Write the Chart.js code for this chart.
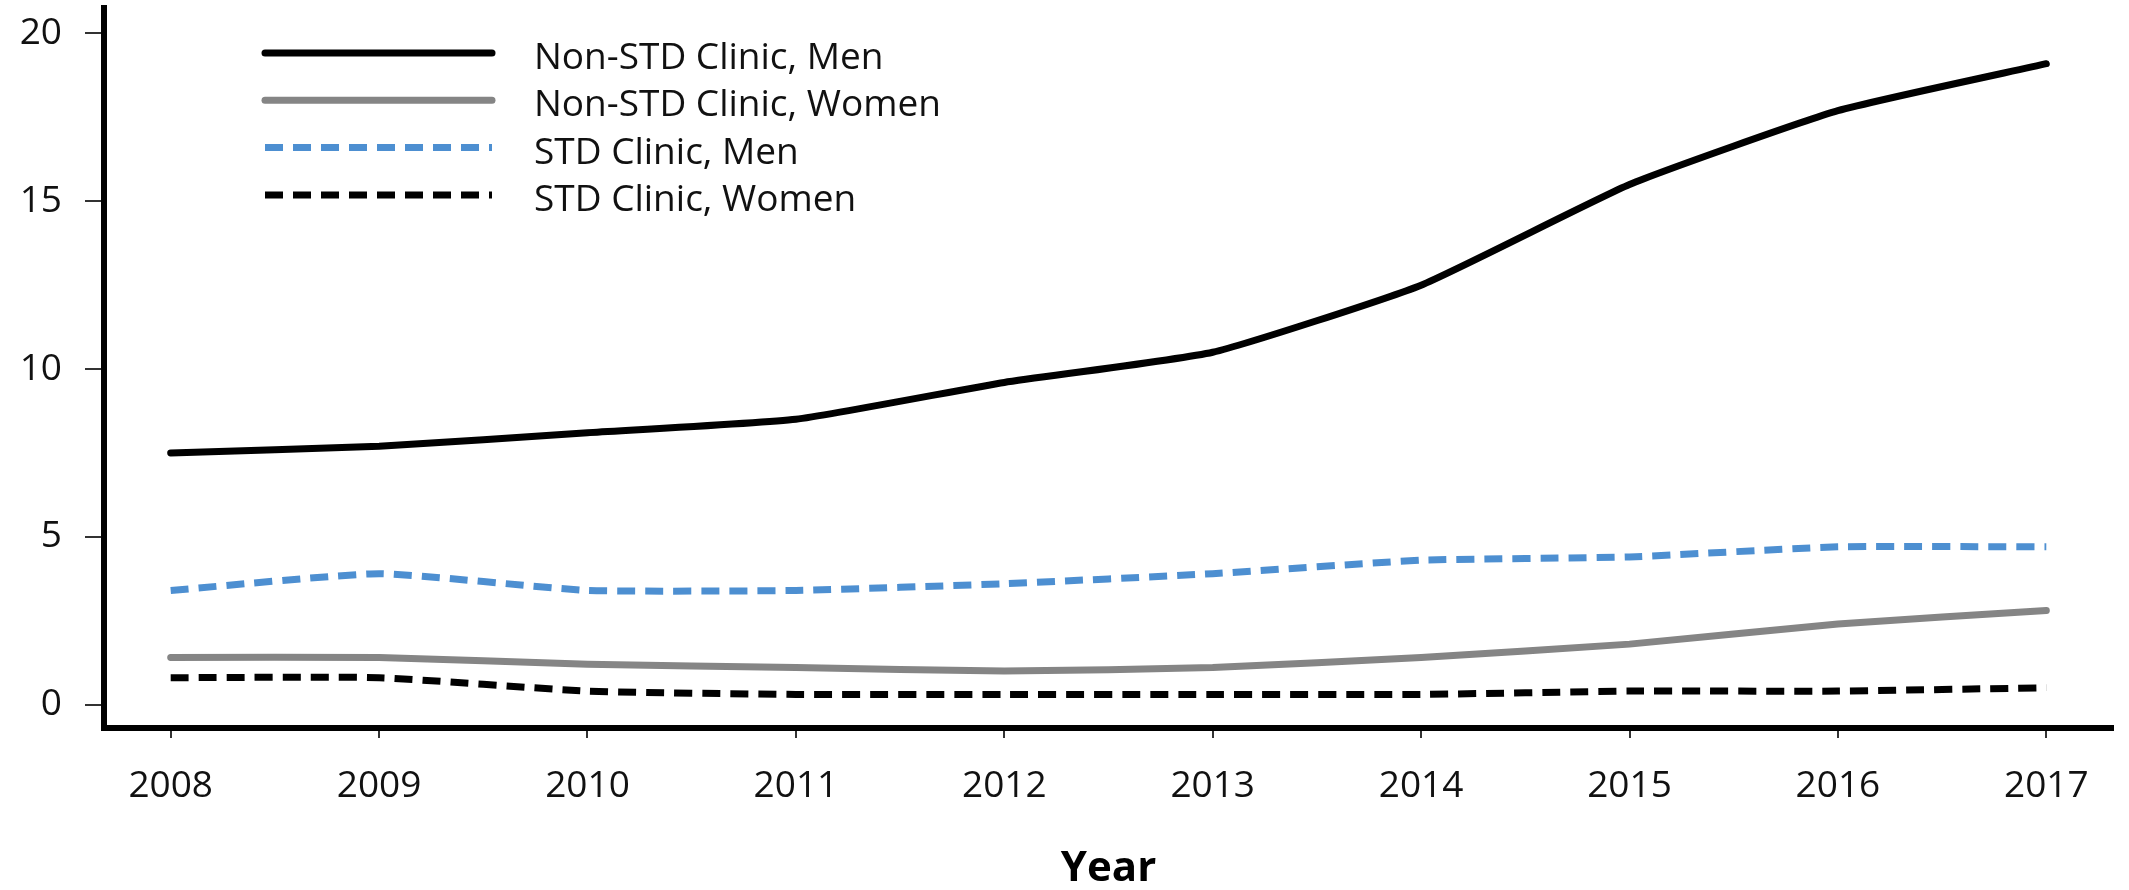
<!DOCTYPE html>
<html>
<head>
  <meta charset="UTF-8" />
  <title>Clinic chart</title>
  <script src="https://cdn.jsdelivr.net/npm/chart.js"></script>
  <style>
    body {
      margin: 0;
      background: #fff;
    }

    #wrap {
      width: 2129px;
      height: 890px;
    }
  </style>
</head>
<body>
  <div id="wrap"><canvas id="chart"></canvas></div>

  <script>
    const years = [2008, 2009, 2010, 2011, 2012, 2013, 2014, 2015, 2016, 2017];
    const nonStdMen = [7.5, 7.7, 8.1, 8.5, 9.6, 10.5, 12.5, 15.5, 17.7, 19.1];
    const nonStdWomen = [1.4, 1.4, 1.2, 1.1, 1.0, 1.1, 1.4, 1.8, 2.4, 2.8];
    const stdMen = [3.4, 3.9, 3.4, 3.4, 3.6, 3.9, 4.3, 4.4, 4.7, 4.7];
    const stdWomen = [0.8, 0.8, 0.4, 0.3, 0.3, 0.3, 0.3, 0.4, 0.4, 0.5];
    const yTicks = [0, 5, 10, 15, 20];

    const font = 'Open Sans';
    const textColor = '#111';

    function points(values) {
      return years.map((yr, i) => ({ x: yr, y: values[i] }));
    }

    // legend drawn as line samples inside the plot, like the original
    const lineLegend = {
      id: 'lineLegend',
      afterDatasetsDraw(chart) {
        const ctx = chart.ctx;
        ctx.save();
        chart.data.datasets.forEach((ds, i) => {
          const y = 53 + i * 47.3;
          ctx.beginPath();
          ctx.setLineDash(ds.borderDash || []);
          ctx.lineWidth = ds.borderWidth;
          ctx.strokeStyle = ds.borderColor;
          ctx.lineCap = ds.borderDash ? 'butt' : 'round';
          ctx.moveTo(265, y);
          ctx.lineTo(492, y);
          ctx.stroke();
          ctx.setLineDash([]);
          ctx.fillStyle = textColor;
          ctx.font = '37px "' + font + '"';
          ctx.textBaseline = 'alphabetic';
          ctx.fillText(ds.label, 534, y + 16);
        });
        ctx.restore();
      }
    };

    const lineBase = {
      pointRadius: 0,
      borderWidth: 7,
      tension: 0.15,
      borderJoinStyle: 'round',
      fill: false
    };

    const ctx = document.getElementById('chart').getContext('2d');
    new Chart(ctx, {
      type: 'line',
      data: {
        datasets: [
          { ...lineBase, label: 'Non-STD Clinic, Men', data: points(nonStdMen), borderColor: '#000', borderCapStyle: 'round' },
          { ...lineBase, label: 'Non-STD Clinic, Women', data: points(nonStdWomen), borderColor: '#858585', borderCapStyle: 'round' },
          { ...lineBase, label: 'STD Clinic, Men', data: points(stdMen), borderColor: '#4d8fd1', borderDash: [18, 10] },
          { ...lineBase, label: 'STD Clinic, Women', data: points(stdWomen), borderColor: '#000', borderDash: [18, 10] }
        ]
      },
      options: {
        responsive: true,
        maintainAspectRatio: false,
        animation: false,
        layout: { padding: { top: 8, right: 16, left: 0, bottom: 0 } },
        plugins: {
          legend: { display: false },
          tooltip: { enabled: false }
        },
        scales: {
          x: {
            type: 'linear',
            min: 2007.68,
            max: 2017.32,
            afterBuildTicks: s => { s.ticks = years.map(v => ({ value: v })); },
            afterFit: s => { s.height = 162; s.paddingLeft = 0; s.paddingRight = 0; },
            border: { color: '#000', width: 6 },
            grid: { drawOnChartArea: false, tickLength: 10, color: '#333', lineWidth: 2 },
            ticks: {
              callback: v => String(v),
              font: { family: font, size: 37 },
              color: textColor,
              padding: 26,
              autoSkip: false,
              maxRotation: 0
            },
            title: {
              display: true,
              text: 'Year',
              color: '#000',
              font: { family: font, size: 42, weight: 'bold', lineHeight: 1 },
              padding: { top: 0, bottom: 0 }
            }
          },
          y: {
            min: -0.7,
            max: 20.76,
            afterBuildTicks: s => { s.ticks = yTicks.map(v => ({ value: v })); },
            afterFit: s => { s.width = 104; s.paddingTop = 0; s.paddingBottom = 0; },
            border: { color: '#000', width: 6 },
            grid: { drawOnChartArea: false, tickLength: 19, color: '#333', lineWidth: 2 },
            ticks: {
              font: { family: font, size: 37 },
              color: textColor,
              padding: 23
            }
          }
        }
      },
      plugins: [lineLegend]
    });
  </script>
</body>
</html>
